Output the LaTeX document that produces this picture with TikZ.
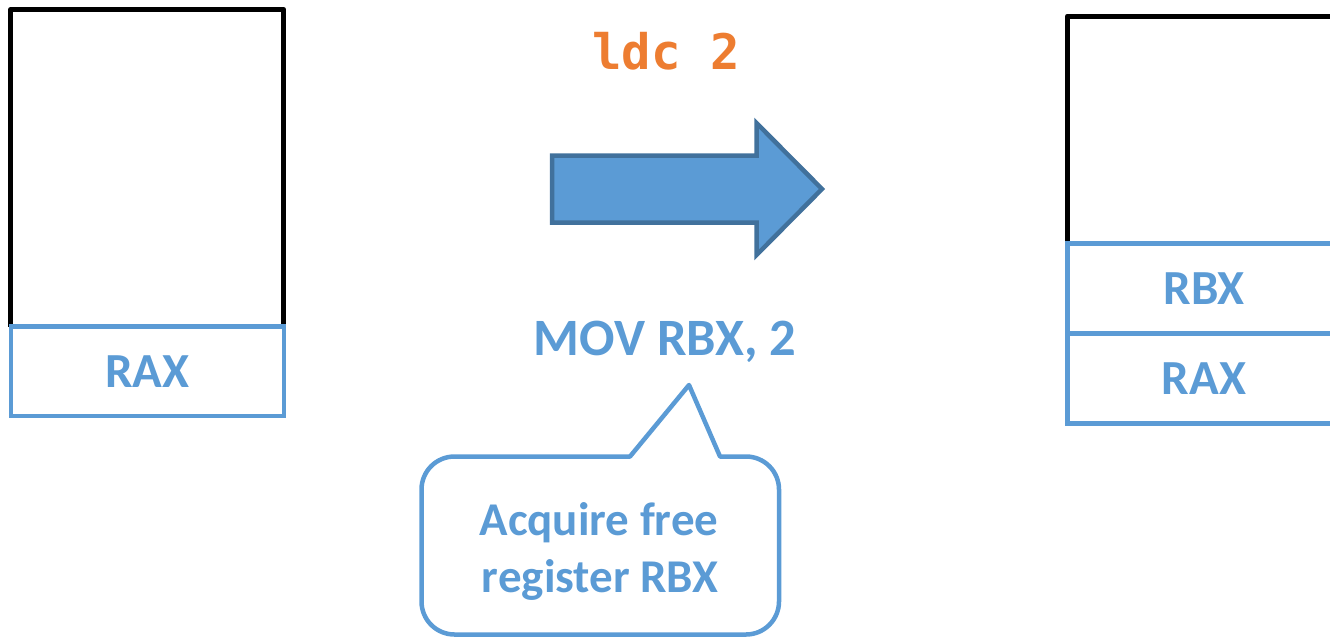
\documentclass[tikz,border=0pt]{standalone}
\usepackage{fontspec}
\setmainfont{Carlito}
\newfontfamily\codefont{DejaVu Sans Mono}
\usetikzlibrary{backgrounds}
\definecolor{regblue}{HTML}{5B9BD5}
\definecolor{arrowedge}{HTML}{41719C}
\definecolor{codeorange}{HTML}{ED7D31}
\tikzset{
  cell/.style={draw=regblue, line width=4.5pt, minimum width=273pt, minimum height=90pt,
    inner sep=0pt, outer sep=0pt, text=regblue, font=\fontsize{49}{58}\selectfont\bfseries},
  stackframe/.style={draw=black, line width=5pt, line join=round},
  bigarrow/.style={fill=regblue, draw=arrowedge, line width=4.5pt, line join=miter},
  bubble/.style={draw=regblue, line width=4.5pt, line join=round},
  notetext/.style={text=regblue, font=\fontsize{47}{57}\selectfont\bfseries, inner sep=0pt, anchor=base},
  instr/.style={text=regblue, font=\fontsize{52.5}{62}\selectfont\bfseries, inner sep=0pt, anchor=base},
  bytecode/.style={text=codeorange, font=\codefont\fontsize{49}{58}\selectfont\bfseries, inner sep=0pt, anchor=base}
}
\begin{document}
\begin{tikzpicture}[x=1pt, y=-1pt]
\useasboundingbox (0,0) rectangle (1330,638);
\clip (0,0) rectangle (1330,638);

% operand stack before
\node[cell, minimum height=89.5pt] (lrax) at (147.25,371.25) {RAX};
\coordinate (ltop) at (147.25,9.5);
\begin{scope}[on background layer]
  \draw[stackframe] (lrax.north west) |- (ltop) -| (lrax.north east);
\end{scope}

% bytecode and its translation
\node[bytecode] (ldc) at (666,69) {ldc 2};
\draw[bigarrow] (552,155.5) -- (756.5,155.5) -- (756.5,123) -- (822,189)
  -- (756.5,255) -- (756.5,222.5) -- (552,222.5) -- cycle;
\node[instr] (mov) at (665,355) {MOV RBX, 2};

% speech bubble
\draw[bubble] (630,456.5) -- (689,385) -- (720,456.5) -- (746,456.5)
  arc[start angle=-90, end angle=0, radius=33] -- (779,601.5)
  arc[start angle=0, end angle=90, radius=33] -- (454.5,634.5)
  arc[start angle=90, end angle=180, radius=33] -- (421.5,489.5)
  arc[start angle=180, end angle=270, radius=33] -- cycle;
\node[notetext] (note1) at (599,535) {Acquire free};
\node[notetext] (note2) at (600,592) {register RBX};

% operand stack after
\node[cell] (rrbx) at (1204,288.5) {RBX};
\node[cell] (rrax) at (1204,378.5) {RAX};
\coordinate (rtop) at (1204,16);
\begin{scope}[on background layer]
  \draw[stackframe] (rrbx.north west) |- (rtop) -| (rrbx.north east);
\end{scope}
\end{tikzpicture}
\end{document}
